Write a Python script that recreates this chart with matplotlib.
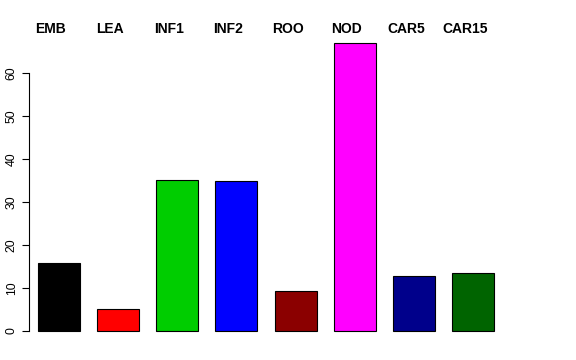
import matplotlib.pyplot as plt
import matplotlib.transforms as mtransforms
import numpy as np

plt.rcParams['font.family'] = ['Liberation Sans', 'DejaVu Sans']

tissues = ["EMB", "LEA", "INF1", "INF2", "ROO", "NOD", "CAR5", "CAR15"]
values = [15.8, 5.1, 35.1, 34.9, 9.3, 67.0, 12.8, 13.5]
colors = ["black", "red", "#00CD00", "blue", "#8B0000", "magenta", "#00008B", "#006400"]

fig = plt.figure(figsize=(5.76, 3.6), dpi=100)
ax = fig.add_axes([0.0503, 0.0486, 0.823, 0.8642])

x = np.arange(len(tissues))
ax.bar(x, values, width=0.71, color=colors, edgecolor="black", linewidth=0.8)

ax.set_xlim(-0.507, 7.507)
ax.set_ylim(-2.68, 69.68)

for s in ["top", "right", "bottom"]:
    ax.spines[s].set_visible(False)
ax.spines["left"].set_bounds(0, 60)
ax.spines["left"].set_linewidth(0.8)
ax.set_xticks([])
ax.set_yticks([0, 10, 20, 30, 40, 50, 60])
ax.tick_params(axis="y", length=5, width=0.8, pad=3, labelsize=8.8, labelrotation=90)
for lab in ax.get_yticklabels():
    lab.set_va("center")

# labels across the top, sitting a bit left of the bar centres
trans = mtransforms.blended_transform_factory(ax.transData, ax.transAxes)
for xi, name in zip(x, tissues):
    ax.text(xi - 0.135, 1.008, name, transform=trans, ha="center", va="center",
            fontsize=10, fontweight="bold")

fig.savefig("out.png", dpi=100)
